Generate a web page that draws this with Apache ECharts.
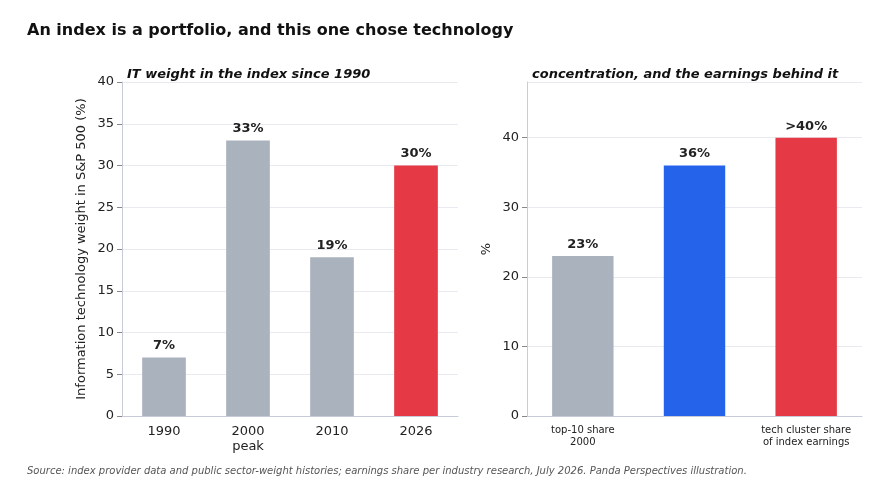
<!DOCTYPE html>
<html lang="en">
<head>
<meta charset="UTF-8">
<title>Chart</title>
<script src="https://cdn.jsdelivr.net/npm/echarts@6/dist/echarts.min.js"></script>
<style>body{margin:0;background:#fff}</style>
</head>
<body>
<div id="main" style="width:886px;height:496px;"></div>
<script>
var leftCats = ['1990', '2000\npeak', '2010', '2026'];
var leftVals = [7, 33, 19, 30];
var leftLabels = ['7%', '33%', '19%', '30%'];
var rightCats = ['top-10 share\n2000', 'top-10 share\n2026', 'tech cluster share\nof index earnings'];
var rightVals = [23, 36, 40];
var rightLabels = ['23%', '36%', '>40%'];

var GRAY = '#aab2bd', RED = '#e63946', BLUE = '#2563eb';
var leftColors = [GRAY, GRAY, GRAY, RED];
var rightColors = [GRAY, BLUE, RED];
var font = 'DejaVu Sans';

function bars(vals, labels, colors) {
    return vals.map(function (v, i) {
        return {
            value: v,
            itemStyle: {color: colors[i]},
            label: {show: true, position: 'top', formatter: labels[i], fontWeight: 'bold', fontSize: 13, color: '#222', fontFamily: font}
        };
    });
}

var chart = echarts.init(document.getElementById('main'));
chart.setOption({
    animation: false,
    textStyle: {fontFamily: font},
    title: [
        {text: 'An index is a portfolio, and this one chose technology', left: 22, top: 18,
            textStyle: {fontSize: 16, fontWeight: 'bold', color: '#111', fontFamily: font}},
        {text: 'IT weight in the index since 1990', left: 122, top: 63,
            textStyle: {fontSize: 13, fontWeight: 'bold', fontStyle: 'italic', color: '#111', fontFamily: font}},
        {text: 'concentration, and the earnings behind it', left: 527, top: 63,
            textStyle: {fontSize: 13, fontWeight: 'bold', fontStyle: 'italic', color: '#111', fontFamily: font}},
        {text: 'Source: index provider data and public sector-weight histories; earnings share per industry research, July 2026. Panda Perspectives illustration.',
            left: 22, top: 461, textStyle: {fontSize: 10, fontStyle: 'italic', fontWeight: 'normal', color: '#555', fontFamily: font}}
    ],
    grid: [
        {left: 122, right: 428, top: 82, bottom: 80},
        {left: 527, right: 24, top: 82, bottom: 80}
    ],
    xAxis: [
        {type: 'category', gridIndex: 0, data: leftCats,
            axisLine: {lineStyle: {color: '#c8ccd8'}}, axisTick: {show: false},
            axisLabel: {color: '#222', fontSize: 13, lineHeight: 15}},
        {type: 'category', gridIndex: 1, data: rightCats,
            axisLine: {lineStyle: {color: '#c8ccd8'}}, axisTick: {show: false},
            axisLabel: {color: '#222', fontSize: 10, lineHeight: 12}}
    ],
    yAxis: [
        {type: 'value', gridIndex: 0, min: 0, max: 40, interval: 5,
            name: 'Information technology weight in S&P 500 (%)', nameLocation: 'middle', nameGap: 34,
            nameTextStyle: {fontSize: 13, color: '#222'},
            axisLine: {show: true, lineStyle: {color: '#c8ccd8'}}, axisTick: {show: true, lineStyle: {color: '#888'}},
            axisLabel: {color: '#222', fontSize: 13},
            splitLine: {lineStyle: {color: '#e8eaf0'}}},
        {type: 'value', gridIndex: 1, min: 0, max: 48, interval: 10,
            name: '%', nameLocation: 'middle', nameGap: 34,
            nameTextStyle: {fontSize: 13, color: '#222'},
            axisLine: {show: true, lineStyle: {color: '#c8ccd8'}}, axisTick: {show: true, lineStyle: {color: '#888'}},
            axisLabel: {color: '#222', fontSize: 13, showMaxLabel: false},
            splitLine: {lineStyle: {color: '#e8eaf0'}}}
    ],
    series: [
        {type: 'bar', xAxisIndex: 0, yAxisIndex: 0, barWidth: '52%', data: bars(leftVals, leftLabels, leftColors)},
        {type: 'bar', xAxisIndex: 1, yAxisIndex: 1, barWidth: '55%', data: bars(rightVals, rightLabels, rightColors)}
    ]
});
</script>
</body>
</html>
